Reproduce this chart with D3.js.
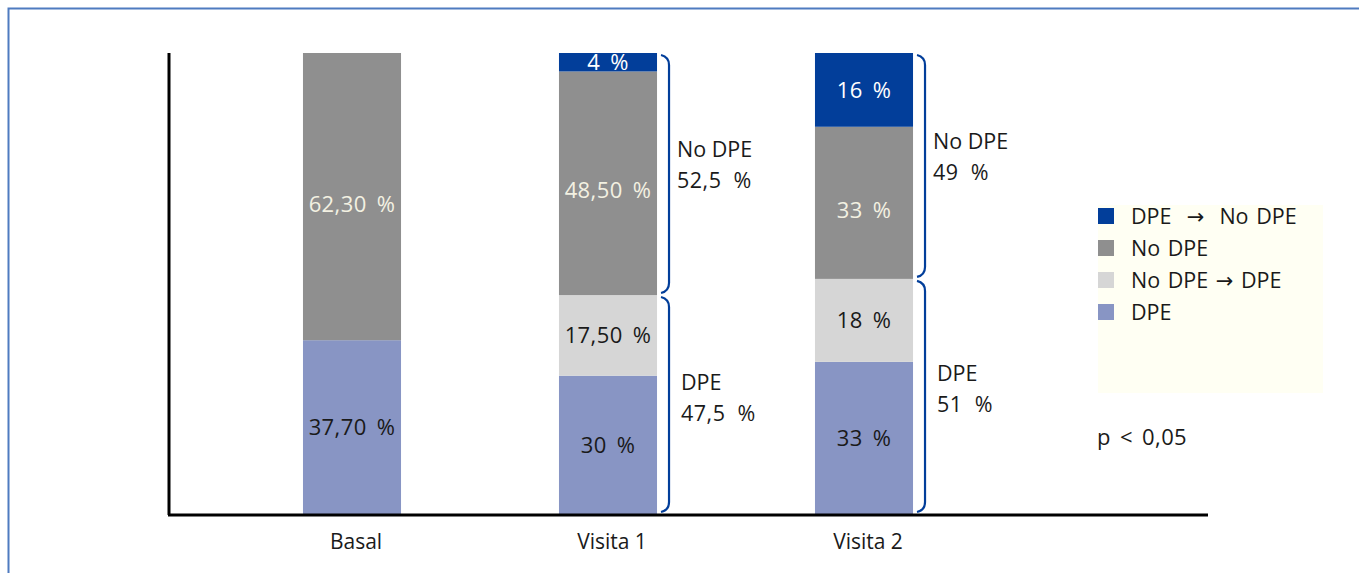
<!DOCTYPE html>
<html>
<head>
<meta charset="utf-8">
<script src="https://cdn.jsdelivr.net/npm/d3@7"></script>
<style>
  body { margin: 0; background: #fff; }
  text { font-family: "Open Sans", "Noto Sans", sans-serif; white-space: pre; }
  .arrow { font-family: "DejaVu Sans", sans-serif; }
</style>
</head>
<body>
<div id="chart"></div>
<script>
// Evolucion DPE: Basal, Visita 1, Visita 2

const visits = ["Basal", "Visita 1", "Visita 2"];
// series, stacked bottom to top
const seriesNames = ["DPE", "No DPE → DPE", "No DPE", "DPE → No DPE"];
const dpe = [37.7, 30, 33];
const noDpeToDpe = [0, 17.5, 18];
const noDpe = [62.3, 48.5, 33];
const dpeToNoDpe = [0, 4, 16];
const segLabels = [
    ["37,70 %", "30 %", "33 %"],
    ["", "17,50 %", "18 %"],
    ["62,30 %", "48,50 %", "33 %"],
    ["", "4 %", "16 %"]
];
const legendLabels = ["DPE  →  No DPE", "No DPE", "No DPE → DPE", "DPE"];
// bracket groups for the follow-up visits
const groupVisits = ["Visita 1", "Visita 2"];
const groupNoDpe = ["52,5 %", "49 %"];
const groupDpe = ["47,5 %", "51 %"];
const pValue = "p < 0,05";

const width = 1359, height = 573;
const colors = ["#8895c4", "#d6d6d6", "#8f8f8f", "#023e9a"];
const textColors = ["#1a1a1a", "#1a1a1a", "#f3f1e2", "#ffffff"];

let svg = d3.select("#chart")
    .append("svg")
    .attr("width", width)
    .attr("height", height);

// frame
svg.append("rect")
    .attr("x", 8.5).attr("y", 8.5)
    .attr("width", width + 20).attr("height", height + 20)
    .attr("fill", "none")
    .attr("stroke", "#4f7bc0")
    .attr("stroke-width", 2);

let x = d3.scaleBand()
    .domain(visits)
    .range([224, 992])
    .paddingInner(0.617)
    .paddingOuter(0.3085);

let y = d3.scaleLinear()
    .domain([0, 100])
    .range([514, 53]);

// stack data
let rows = visits.map((v, i) => ({
    visit: v,
    s0: dpe[i], s1: noDpeToDpe[i], s2: noDpe[i], s3: dpeToNoDpe[i]
}));
let stack = d3.stack().keys(["s0", "s1", "s2", "s3"])(rows);

let layer = svg.selectAll(".layer")
    .data(stack)
    .join("g")
    .attr("class", "layer")
    .attr("fill", (d, i) => colors[i]);

layer.selectAll("rect")
    .data(d => d)
    .join("rect")
    .attr("x", d => x(d.data.visit))
    .attr("width", x.bandwidth())
    .attr("y", d => y(d[1]))
    .attr("height", d => y(d[0]) - y(d[1]));

stack.forEach((s, si) => {
    svg.append("g").selectAll("text")
        .data(s)
        .join("text")
        .text((d, i) => segLabels[si][i])
        .attr("x", d => x(d.data.visit) + x.bandwidth() / 2)
        .attr("y", d => (y(d[0]) + y(d[1])) / 2 + (si === 2 ? 15 : 8))
        .attr("text-anchor", "middle")
        .attr("fill", textColors[si])
        .style("font-size", "22px")
        .style("letter-spacing", "0.4px")
        .style("word-spacing", "4px");
});

// axes
svg.append("line")
    .attr("x1", 169).attr("x2", 169)
    .attr("y1", y(100)).attr("y2", y(0) + 1)
    .attr("stroke", "#000").attr("stroke-width", 3);
svg.append("line")
    .attr("x1", 168).attr("x2", 1208)
    .attr("y1", y(0) + 1).attr("y2", y(0) + 1)
    .attr("stroke", "#000").attr("stroke-width", 3);

svg.append("g").selectAll("text")
    .data(visits)
    .join("text")
    .text(d => d)
    .attr("x", d => x(d) + x.bandwidth() / 2 + 4)
    .attr("y", 549)
    .attr("text-anchor", "middle")
    .attr("fill", "#1a1a1a")
    .style("font-size", "21px");

// brackets
function bracket(x0, yTop, yBot) {
    const h = 8;
    return `M${x0},${yTop} Q${x0 + h},${yTop + 2} ${x0 + h},${yTop + h + 2}` +
        ` L${x0 + h},${yBot - h - 2} Q${x0 + h},${yBot - 2} ${x0},${yBot}`;
}

groupVisits.forEach((v, gi) => {
    const i = visits.indexOf(v);
    const bx = x(v) + x.bandwidth() + 4;
    const split = dpe[i] + noDpeToDpe[i];
    const top = split + noDpe[i] + dpeToNoDpe[i];
    svg.append("path")
        .attr("d", bracket(bx, y(top) + 2, y(split) - 2))
        .attr("fill", "none").attr("stroke", "#023e9a").attr("stroke-width", 2.2);
    svg.append("path")
        .attr("d", bracket(bx, y(split) + 2, y(0) - 2))
        .attr("fill", "none").attr("stroke", "#023e9a").attr("stroke-width", 2.2);

    let tUp = svg.append("text")
        .attr("x", bx + 16)
        .attr("y", (y(top) + y(split)) / 2 - 17)
        .attr("fill", "#1a1a1a")
        .style("font-size", "21.5px");
    tUp.append("tspan").text("No DPE");
    tUp.append("tspan").attr("x", bx + 16).attr("dy", 31)
        .style("word-spacing", "6px").style("letter-spacing", "0.5px")
        .text(groupNoDpe[gi]);

    let tDown = svg.append("text")
        .attr("x", bx + 20)
        .attr("y", (y(split) + y(0)) / 2 - 15)
        .attr("fill", "#1a1a1a")
        .style("font-size", "21.5px");
    tDown.append("tspan").text("DPE");
    tDown.append("tspan").attr("x", bx + 20).attr("dy", 31)
        .style("word-spacing", "6px").style("letter-spacing", "0.5px")
        .text(groupDpe[gi]);
});

// legend
let legend = svg.append("g").attr("transform", "translate(1098,205)");
legend.append("rect")
    .attr("width", 225).attr("height", 188)
    .attr("fill", "#fffff3");

let item = legend.selectAll(".item")
    .data(legendLabels)
    .join("g")
    .attr("class", "item")
    .attr("transform", (d, i) => `translate(0,${11 + i * 32})`);

item.append("rect")
    .attr("x", 0).attr("y", -8)
    .attr("width", 16).attr("height", 16)
    .attr("fill", (d, i) => colors[3 - i]);

let itemText = item.append("text")
    .attr("x", 33)
    .attr("y", 8)
    .attr("fill", "#1a1a1a")
    .style("font-size", "21.5px")
    .style("word-spacing", "2px");

itemText.each(function(d) {
    let parts = d.split("→");
    let t = d3.select(this);
    parts.forEach((p, k) => {
        if (k > 0) t.append("tspan").attr("class", "arrow").style("font-size", "21px").text("→");
        t.append("tspan").text(p);
    });
});

svg.append("text")
    .text(pValue)
    .attr("x", 1097)
    .attr("y", 445)
    .attr("fill", "#1a1a1a")
    .style("font-size", "22px")
    .style("word-spacing", "3px")
    .style("letter-spacing", "0.4px");
</script>
</body>
</html>
